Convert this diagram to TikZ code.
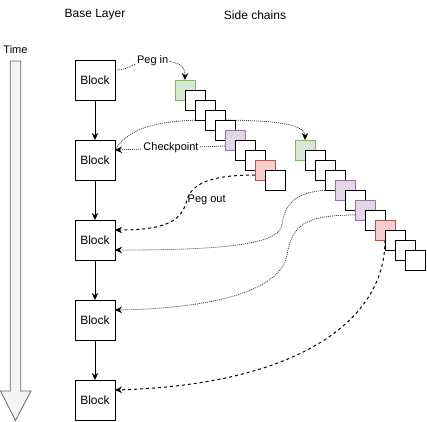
\documentclass[tikz,border=0pt]{standalone}
\usepackage{fontspec}
\setmainfont{Liberation Sans}
\usetikzlibrary{arrows.meta}
\pgfdeclarelayer{bg}
\pgfsetlayers{bg,main}
\definecolor{gfill}{HTML}{D5E8D4}\definecolor{gline}{HTML}{82B366}
\definecolor{pfill}{HTML}{E1D5E7}\definecolor{pline}{HTML}{9673A6}
\definecolor{rfill}{HTML}{F8CECC}\definecolor{rline}{HTML}{B85450}
\definecolor{tfill}{HTML}{F5F5F5}\definecolor{tline}{HTML}{666666}
\tikzset{
  blk/.style={draw, line width=1pt, minimum size=40pt, inner sep=0pt, outer sep=0pt, font=\fontsize{12}{14}\selectfont},
  sq/.style={draw, line width=1pt, fill=white, minimum size=20pt, inner sep=0pt, outer sep=0pt},
  sqg/.style={sq, fill=gfill, draw=gline},
  sqp/.style={sq, fill=pfill, draw=pline},
  sqr/.style={sq, fill=rfill, draw=rline},
  title/.style={font=\fontsize{12}{14}\selectfont, inner sep=0pt},
  elabel/.style={font=\fontsize{11}{13}\selectfont, fill=white, inner sep=1pt},
  tip/.style={-{Stealth[length=7pt,width=6.5pt,black]}},
  dotedge/.style={tip, draw=black!75, line width=0.8pt, dash pattern=on 1pt off 1pt},
  dashedge/.style={tip, draw=black, line width=1pt, dash pattern=on 3pt off 3pt},
  solidedge/.style={tip, draw=black, line width=1pt},
}
\begin{document}
\begin{tikzpicture}[x=1pt,y=-1pt]
\useasboundingbox (0,0) rectangle (427,421);
% time arrow
\draw[fill=tfill, draw=tline, line width=0.8pt]
  (10.3,61) -- (20.7,61) -- (20.7,391) -- (31,391) -- (15.5,420.5) -- (0.5,391) -- (10.3,391) -- cycle;
\node[title, font=\fontsize{11}{13}\selectfont] (time) at (15.5,50) {Time};
\node[title] (base) at (95,15) {Base Layer};
\node[title] (side) at (255,15) {Side chains};
% blocks
\foreach \i/\y in {1/80,2/160,3/240,4/320,5/400}
  \node[blk] (b\i) at (95,\y) {Block};
\foreach \i/\j in {1/2,2/3,3/4,4/5}
  \draw[solidedge] (b\i) -- (b\j);
% chain 1
\node[sqg] (c1) at (185,90) {};
\node[sq]  (c2) at (195,100) {};
\node[sq]  (c3) at (205,110) {};
\node[sq]  (c4) at (215,120) {};
\node[sq]  (c5) at (225,130) {};
\node[sqp] (c6) at (235,140) {};
\node[sq]  (c7) at (245,150) {};
\node[sq]  (c8) at (255,160) {};
\node[sqr] (c9) at (265,170) {};
\node[sq]  (c10) at (275,180) {};
% chain 2
\node[sqg] (d1) at (305,150) {};
\node[sq]  (d2) at (315,160) {};
\node[sq]  (d3) at (325,170) {};
\node[sq]  (d4) at (335,180) {};
\node[sqp] (d5) at (345,190) {};
\node[sq]  (d6) at (355,200) {};
\node[sqp] (d7) at (365,210) {};
\node[sq]  (d8) at (375,220) {};
\node[sqr] (d9) at (385,230) {};
\node[sq]  (d10) at (395,240) {};
\node[sq]  (d11) at (405,250) {};
\node[sq]  (d12) at (415,260) {};
% labels
\node[elabel] (pegin) at (152.7,61) {Peg in};
\node[elabel] (chk) at (171,148) {Checkpoint};
\node[font=\fontsize{11}{13}\selectfont, inner sep=0pt, anchor=west] (pegout) at (187.5,200) {Peg out};
% edges
\begin{pgfonlayer}{bg}
\draw[dotedge] ([yshift=10pt]b1.east) .. controls (132,70) and (132,61) .. (152,61)
  .. controls (176,60) and (185,64) .. (c1.north);
\draw[dotedge] ([yshift=10pt]b2.east) .. controls (130,124) and (170,120) .. (210,120)
  .. controls (262,120) and (305,122) .. (d1.north);
\draw[dotedge] ([yshift=-6pt]c6.west) -- ([yshift=10pt]b2.east);
\draw[dashedge] ([yshift=-5pt]c9.west) .. controls (215,175) and (192,182) .. (187,200)
  .. controls (182,220) and (168,230) .. ([yshift=10pt]b3.east);
\draw[dotedge] (d5.west) .. controls (300,190) and (285,200) .. (282,225)
  .. controls (279,245) and (220,250) .. ([yshift=-10pt]b3.east);
\draw[dotedge] ([yshift=-5pt]d7.west) .. controls (305,215) and (292,225) .. (287,255)
  .. controls (282,285) and (230,308) .. ([yshift=10pt]b4.east);
\draw[dashedge] (d9.south) .. controls (385,325) and (290,385) .. ([yshift=10pt]b5.east);
\end{pgfonlayer}
\end{tikzpicture}
\end{document}
